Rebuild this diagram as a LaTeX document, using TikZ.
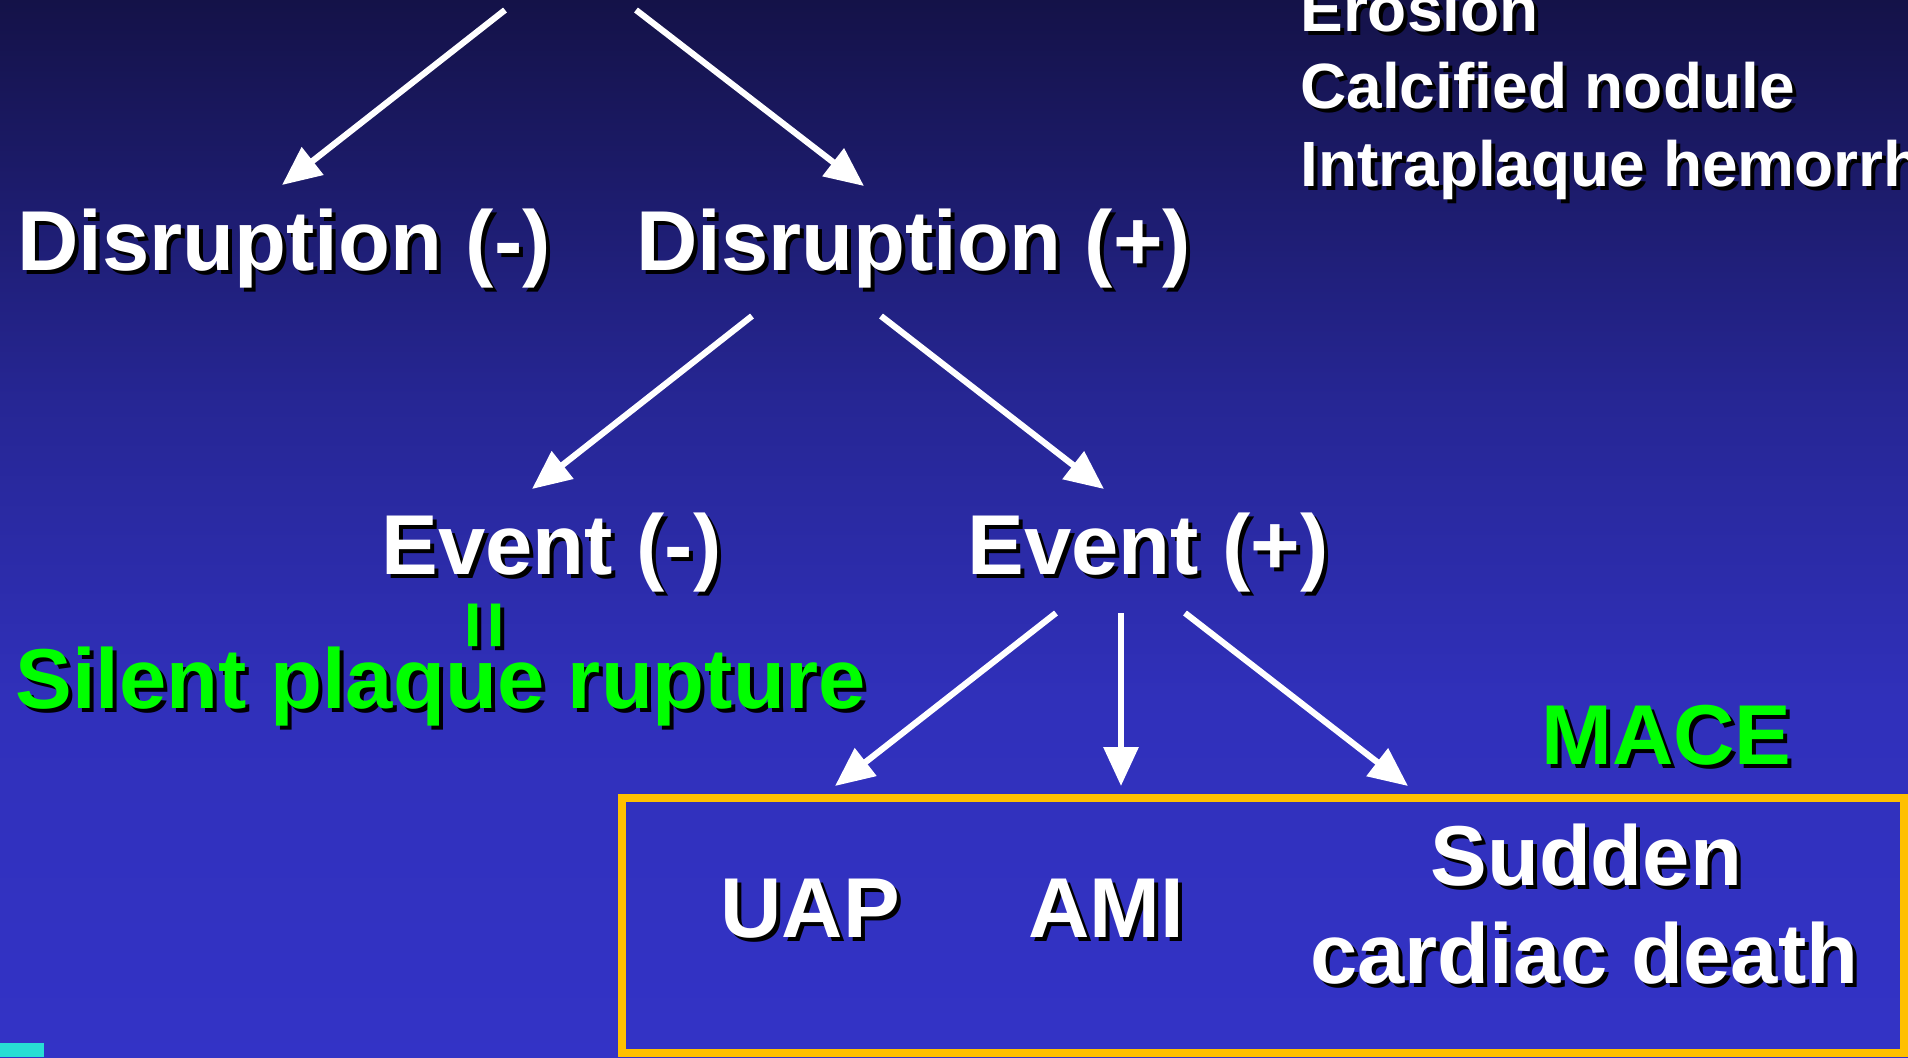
\documentclass[tikz,border=0pt]{standalone}
\usepackage{fontspec}
\setmainfont{Liberation Sans}
\usetikzlibrary{arrows.meta,positioning}
\definecolor{bgtop}{RGB}{20,18,72}
\definecolor{bgmid}{RGB}{38,38,148}
\definecolor{bglow}{RGB}{48,48,186}
\definecolor{bgbot}{RGB}{51,51,198}
\definecolor{mintgreen}{RGB}{0,255,0}
\definecolor{boxorange}{RGB}{255,192,0}
\definecolor{cornercyan}{RGB}{40,222,212}
\pgfdeclareverticalshading{slidebg}{100bp}{color(0bp)=(bgbot); color(25bp)=(bgbot);
  color(42bp)=(bglow); color(56bp)=(bgmid); color(75bp)=(bgtop); color(100bp)=(bgtop)}
\newcommand{\shtxt}[1]{\rlap{\hspace{2pt}\raisebox{-2pt}{\color{black}#1}}#1} % text with a drop shadow
\tikzset{big/.style={font=\bfseries\fontsize{42.5}{51}\selectfont, text=white, inner sep=0pt, anchor=base west}, % large slide text
small/.style={big, font=\bfseries\fontsize{32}{38}\selectfont}, % list in the corner
hilite/.style={text=mintgreen}, % green remarks
arr/.style={-{Triangle[length=19.5pt,width=17pt]}, white, line width=3.1pt}, % white arrows
macebox/.style={draw=boxorange, line width=4pt, outer sep=0pt, inner sep=0pt, anchor=north west},
}

\begin{document}
\begin{tikzpicture}[x=0.5pt, y=-0.5pt]
\useasboundingbox (0,0) rectangle (1908,1057);
\clip (0,0) rectangle (1908,1057);
\shade[shading=slidebg] (0,0) rectangle (1908,1057);
\fill[cornercyan] (0,1043) rectangle (44,1057);

% list top right
\node[small] (ero) at (1300,31) {\shtxt{Erosion}};
\node[small] (calc) at (1300,108) {\shtxt{Calcified nodule}};
\node[small] (iph) at (1300,186) {\shtxt{Intraplaque hemorrhage}};

% tree
\coordinate (topL) at (505,10);
\coordinate (topR) at (636,10);
\node[big] (dminus) at (17,270) {\shtxt{Disruption (-)}};
\node[big] (dplus) at (636,270) {\shtxt{Disruption (+)}};
\node[big] (eminus) at (381,574) {\shtxt{Event (-)}};
\node[big] (eplus) at (967,574) {\shtxt{Event (+)}};
\node[big, hilite, anchor=center, rotate=-90] (eq) at (481,625) {\rlap{\hspace{2pt}\raisebox{2pt}{\color{black}=}}=};
\node[big, hilite] (silent) at (15,708) {\shtxt{Silent plaque rupture}};
\node[big, hilite] (mace) at (1541,764) {\shtxt{MACE}};

% outcomes
\node[macebox, minimum width=641pt, minimum height=127.5pt] (box) at (622,798) {};
\node[big] (uap) at (720,937) {\shtxt{UAP}};
\node[big] (ami) at (1028,937) {\shtxt{AMI}};
\node[big] (scd1) at (1430,885) {\shtxt{Sudden}};
\node[big] (scd2) at (1310,983) {\shtxt{cardiac death}};

\draw[arr] (topL) -- ([xshift=132.5pt,yshift=42.5pt]dminus.base west);
\draw[arr] (topR) -- ([xshift=114pt,yshift=42pt]dplus.base west);
\draw[arr] ([xshift=58pt,yshift=-23pt]dplus.base west) -- ([xshift=75.5pt,yshift=42.5pt]eminus.base west);
\draw[arr] ([xshift=122.5pt,yshift=-23pt]dplus.base west) -- ([xshift=68.5pt,yshift=42.5pt]eplus.base west);
\draw[arr] ([xshift=44.5pt,yshift=-19.5pt]eplus.base west) -- ([xshift=57.5pt,yshift=75.5pt]uap.base west);
\draw[arr] ([xshift=77pt,yshift=-19.5pt]eplus.base west) -- ([xshift=46.5pt,yshift=75.5pt]ami.base west);
\draw[arr] ([xshift=109pt,yshift=-19.5pt]eplus.base west) -- ([xshift=-11pt,yshift=49.5pt]scd1.base west);
\end{tikzpicture}
\end{document}
